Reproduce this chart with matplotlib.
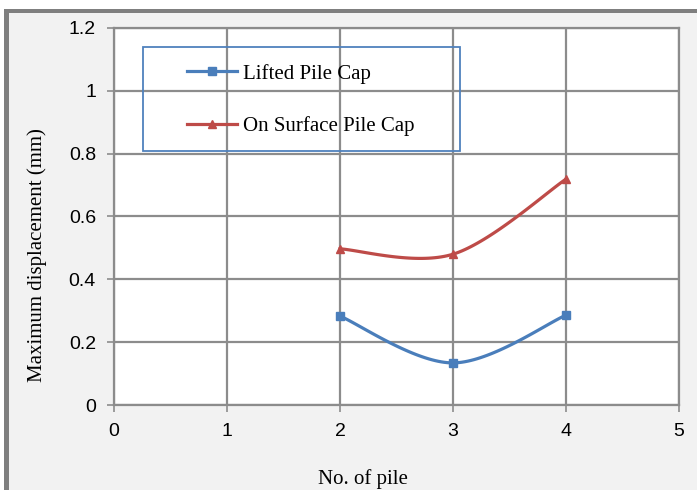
import numpy as np
import matplotlib
matplotlib.use("Agg")
import matplotlib.pyplot as plt
from matplotlib.patches import Rectangle

# ----- data -----
piles = [2, 3, 4]
lifted = [0.283, 0.134, 0.286]
on_surface = [0.497, 0.480, 0.719]
series_names = ["Lifted Pile Cap", "On Surface Pile Cap"]


def smooth(xs, ys, n=40):
    """Excel-like smoothed line: cubic Bezier through the points (Catmull-Rom tangents)."""
    p = np.column_stack([xs, ys]).astype(float)
    p_ext = np.vstack([p[0], p, p[-1]])
    out = [p[0]]
    t = np.linspace(0, 1, n + 1)[1:, None]
    for i in range(len(p) - 1):
        p0, p1 = p_ext[i + 1], p_ext[i + 2]
        c1 = p0 + (p_ext[i + 2] - p_ext[i]) / 6
        c2 = p1 - (p_ext[i + 3] - p_ext[i + 1]) / 6
        seg = (1 - t) ** 3 * p0 + 3 * (1 - t) ** 2 * t * c1 + 3 * (1 - t) * t ** 2 * c2 + t ** 3 * p1
        out.extend(seg)
    out = np.array(out)
    return out[:, 0], out[:, 1], list(range(0, len(out), n))


W, H = 697, 490
fig = plt.figure(figsize=(W / 100, H / 100), dpi=100)
fig.patch.set_facecolor("white")

# grey panel with a dark frame on top and left
fig.patches.append(Rectangle((4 / W, 0), 1, 1 - 9 / H, transform=fig.transFigure,
                             facecolor="#f2f2f2", edgecolor="none", zorder=-3))
fig.patches.append(Rectangle((4 / W, 1 - 13 / H), 1, 4 / H, transform=fig.transFigure,
                             facecolor="#7f7f7f", edgecolor="none", zorder=-2))
fig.patches.append(Rectangle((4 / W, 0), 5 / W, 1 - 9 / H, transform=fig.transFigure,
                             facecolor="#7f7f7f", edgecolor="none", zorder=-2))

ax = fig.add_axes([114 / W, 85 / H, 565 / W, 377 / H])
ax.set_facecolor("white")

grid_c = "#8c8c8c"
ax.set_xlim(0, 5)
ax.set_ylim(0, 1.2)
ax.set_xticks(range(0, 6))
ax.set_yticks(np.arange(0, 1.21, 0.2))
ax.set_yticklabels(["0", "0.2", "0.4", "0.6", "0.8", "1", "1.2"])
ax.grid(True, color=grid_c, linewidth=1.6)
ax.set_axisbelow(True)
for s in ax.spines.values():
    s.set_color(grid_c)
    s.set_linewidth(1.6)
ax.tick_params(direction="out", length=5, width=1.2, color=grid_c,
               labelsize=14, pad=8)
for lab in ax.get_xticklabels() + ax.get_yticklabels():
    lab.set_family("Liberation Sans")

colors = ["#4a7ebb", "#be4b48"]
markers = ["s", "^"]
handles = []
for ys, c, m, name in zip([lifted, on_surface], colors, markers, series_names):
    sx, sy, idx = smooth(piles, ys)
    h, = ax.plot(sx, sy, color=c, linewidth=2.3, marker=m, markevery=idx,
                 markersize=6, markerfacecolor=c, markeredgecolor=c,
                 label=name, clip_on=False, zorder=3)
    handles.append(h)

# legend frame
ax.add_patch(Rectangle((29 / 565, (405 - 151) / 377), 317 / 565, 104 / 377,
                       transform=ax.transAxes, facecolor="none",
                       edgecolor="#4f81bd", linewidth=1.3, zorder=4))
leg = ax.legend(handles=handles, loc="center left",
                bbox_to_anchor=(73 / 565, (405 - 100) / 377),
                frameon=False, borderpad=0, borderaxespad=0,
                handlelength=2.4, handletextpad=0.3, labelspacing=1.56,
                markerscale=0.9,
                prop={"family": "Liberation Serif", "size": 15})

ax.set_xlabel("No. of pile", family="Liberation Serif", fontsize=15)
ax.xaxis.set_label_coords((363 - 114) / 565, (405 - 469) / 377)
ax.set_ylabel("Maximum displacement (mm)", family="Liberation Serif", fontsize=15)
ax.yaxis.set_label_coords((37 - 114) / 565, (405 - 255) / 377)
ax.yaxis.label.set_va("center")

fig.savefig("out.png", dpi=100, facecolor=fig.get_facecolor())
